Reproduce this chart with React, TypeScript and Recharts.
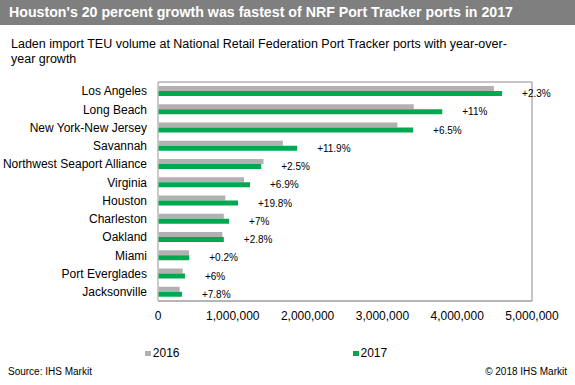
import React from 'react';
import { BarChart, Bar, XAxis, YAxis, Legend, LabelList, ReferenceArea } from 'recharts';

// Port names, top to bottom
const ports = [
  'Los Angeles',
  'Long Beach',
  'New York-New Jersey',
  'Savannah',
  'Northwest Seaport Alliance',
  'Virginia',
  'Houston',
  'Charleston',
  'Oakland',
  'Miami',
  'Port Everglades',
  'Jacksonville'
];

// Laden import TEU
const teu2016 = [4490000, 3420000, 3200000, 1670000, 1410000, 1150000, 900000, 880000, 860000, 415000, 330000, 290000];
const teu2017 = [4600000, 3800000, 3410000, 1860000, 1380000, 1230000, 1070000, 950000, 880000, 418000, 360000, 320000];

// Year-over-year growth labels
const growth = ['+2.3%', '+11%', '+6.5%', '+11.9%', '+2.5%', '+6.9%', '+19.8%', '+7%', '+2.8%', '+0.2%', '+6%', '+7.8%'];

const xTicks = [0, 1000000, 2000000, 3000000, 4000000, 5000000];

const GRAY = '#b1b1b4';
const GREEN = '#00a94f';
const FONT = '"Liberation Sans", Arial, sans-serif';

const data = ports.map((name, i) => ({
  name,
  y2016: teu2016[i],
  y2017: teu2017[i],
  growth: growth[i]
}));

const formatNumber = (value: number) => value.toLocaleString('en-US');

// Single-line port names (the default tick wraps long names)
const PortTick = (props: any) => {
  const { x, y, payload } = props;
  return (
    <text x={x} y={y} dy="0.355em" textAnchor="end" fontSize={12} fill="#000">
      {payload.value}
    </text>
  );
};

// Legend with the two years spread apart like the original
const renderLegend = () => (
  <div style={{ display: 'flex', justifyContent: 'center', gap: 173, fontSize: 12, color: '#000' }}>
    {[
      { label: '2016', color: GRAY },
      { label: '2017', color: GREEN }
    ].map((item) => (
      <div key={item.label} style={{ display: 'flex', alignItems: 'center' }}>
        <span style={{ display: 'inline-block', width: 6, height: 5, background: item.color, marginRight: 2 }} />
        <span>{item.label}</span>
      </div>
    ))}
  </div>
);

const App: React.FC = () => {
  return (
    <div style={{ position: 'absolute', left: 0, top: 0, width: 575, height: 385, background: '#fff', fontFamily: FONT }}>
      {/* Title bar */}
      <div
        style={{
          position: 'absolute', left: 0, top: 0, width: 575, height: 25, background: '#7f7f7f',
          color: '#fff', fontWeight: 'bold', fontSize: 14.2, lineHeight: '25px', paddingLeft: 9, boxSizing: 'border-box',
          whiteSpace: 'nowrap'
        }}
      >
        Houston's 20 percent growth was fastest of NRF Port Tracker ports in 2017
      </div>

      {/* Subtitle, broken where the original breaks it */}
      <div style={{ position: 'absolute', left: 11, top: 37, fontSize: 12.5, lineHeight: '15px', color: '#000', whiteSpace: 'nowrap' }}>
        Laden import TEU volume at National Retail Federation Port Tracker ports with year-over-
        <br />
        year growth
      </div>

      <div style={{ position: 'absolute', left: 0, top: 0 }}>
        <BarChart
          width={575}
          height={385}
          data={data}
          layout="vertical"
          margin={{ top: 82, right: 43, bottom: 22, left: 0 }}
          barSize={5}
          barGap={0}
        >
          <XAxis
            type="number"
            domain={[0, 5000000]}
            ticks={xTicks}
            tickFormatter={formatNumber}
            tick={{ fill: '#000', fontSize: 12 }}
            tickLine={false}
            tickMargin={4}
            axisLine={{ stroke: '#a6a6a6' }}
            height={30}
          />
          <YAxis
            type="category"
            dataKey="name"
            width={158}
            tick={<PortTick />}
            tickLine={false}
            tickMargin={5}
            axisLine={{ stroke: '#d0d0d0' }}
            interval={0}
          />
          <ReferenceArea x1={0} x2={5000000} fill="none" stroke="#8c8c8c" strokeWidth={1} />
          <Legend verticalAlign="bottom" height={32} content={renderLegend} wrapperStyle={{ top: 346 }} />
          <Bar dataKey="y2016" name="2016" fill={GRAY} isAnimationActive={false} />
          <Bar dataKey="y2017" name="2017" fill={GREEN} isAnimationActive={false}>
            <LabelList dataKey="growth" position="right" offset={20} fill="#000" fontSize={10} />
          </Bar>
        </BarChart>
      </div>

      {/* Footer */}
      <div style={{ position: 'absolute', left: 8, top: 366, fontSize: 10, color: '#000' }}>Source: IHS Markit</div>
      <div style={{ position: 'absolute', right: 8, top: 366, fontSize: 10, color: '#000' }}>© 2018 IHS Markit</div>
    </div>
  );
};

export default App;
